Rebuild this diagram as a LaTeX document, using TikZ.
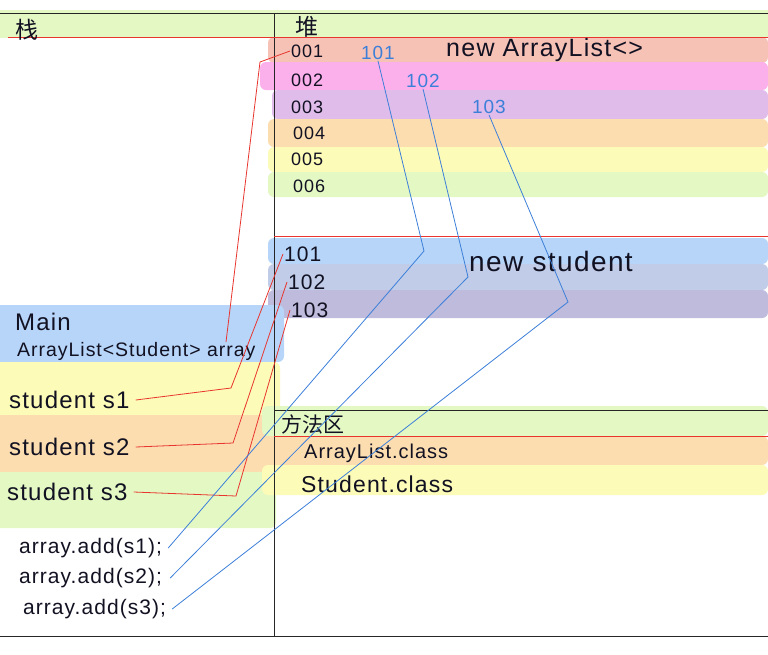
\documentclass[tikz,border=0pt]{standalone}
\usepackage{fontspec}
\setmainfont[LetterSpace=5]{Liberation Sans}
\newfontfamily\cjk{Noto Sans CJK SC}
\definecolor{cGreen}{HTML}{E4F8C4}
\definecolor{cSalmon}{HTML}{F7C2B6}
\definecolor{cPink}{HTML}{FBB0EC}
\definecolor{cPurple}{HTML}{E0BCEB}
\definecolor{cPeach}{HTML}{FCDDB0}
\definecolor{cYellow}{HTML}{FDFBB8}
\definecolor{cBlueA}{HTML}{B7D5F8}
\definecolor{cBlueB}{HTML}{C0CCE8}
\definecolor{cBlueC}{HTML}{BEBBDC}
\definecolor{cRed}{HTML}{E8352E}
\definecolor{cLink}{HTML}{3C7FD9}
\definecolor{cInk}{HTML}{111122}
\begin{document}
\begin{tikzpicture}[x=1pt,y=-1pt,
  band/.style={rounded corners=6pt},
  ink/.style={text=cInk,inner sep=1pt,anchor=west},
  bluetxt/.style={text=cLink,inner sep=1pt,anchor=west},
  redline/.style={draw=cRed,line width=0.8pt},
  blueline/.style={draw=cLink,line width=0.8pt},
  frame/.style={draw=black!85,line width=0.9pt}]
\useasboundingbox (0,0) rectangle (768,654);
% top band
\fill[cGreen] (0,10) rectangle (768,38);
% heap rows
\fill[band,cSalmon] (268,37) rectangle (768,63);
\fill[band,cPink] (260,62) rectangle (768,90);
\fill[band,cPurple] (272,90) rectangle (768,119);
\fill[band,cPeach] (268,119) rectangle (768,147);
\fill[band,cYellow] (268,147) rectangle (768,172);
\fill[band,cGreen] (268,172) rectangle (768,197);
\fill[band,cBlueA] (268,238) rectangle (768,264);
\fill[band,cBlueB] (268,264) rectangle (768,290);
\fill[band,cBlueC] (268,290) rectangle (768,318);
% stack rows
\fill[band,cBlueA] (-10,305) rectangle (284,362);
\fill[band,cYellow] (-10,362) rectangle (280,415);
\fill[band,cPeach] (-10,415) rectangle (280,472);
\fill[band,cGreen] (-10,472) rectangle (276,528);
% method area rows
\fill[band,cGreen] (262,406) rectangle (768,436);
\fill[band,cPeach] (268,436) rectangle (768,465);
\fill[band,cYellow] (262,465) rectangle (768,495);
% frame lines
\draw[frame] (0,13) -- (768,13);
\draw[frame] (0,636) -- (768,636);
\draw[frame] (274,13) -- (274,636);
\draw[frame] (274,410) -- (768,410);
\draw[cRed,line width=0.9pt] (8,37) -- (768,37);
\draw[cRed,line width=0.9pt] (274,236) -- (768,236);
\draw[cRed,line width=0.9pt] (274,436) -- (768,436);
% headings
\node[ink,font=\cjk\fontsize{23}{25}\selectfont] (zhan) at (14,30) {栈};
\node[ink,font=\cjk\fontsize{23}{25}\selectfont] (dui) at (294,27) {堆};
\node[ink,font=\cjk\fontsize{21}{23}\selectfont] (fang) at (280,424) {方法区};
% heap addresses
\node[ink,font=\fontsize{18}{20}\selectfont] (a001) at (290,51) {001};
\node[ink,font=\fontsize{18}{20}\selectfont] (a002) at (290,80) {002};
\node[ink,font=\fontsize{18}{20}\selectfont] (a003) at (290,107) {003};
\node[ink,font=\fontsize{18}{20}\selectfont] (a004) at (292,133) {004};
\node[ink,font=\fontsize{18}{20}\selectfont] (a005) at (290,159) {005};
\node[ink,font=\fontsize{18}{20}\selectfont] (a006) at (292,186) {006};
\node[bluetxt,font=\fontsize{19}{21}\selectfont] (v101) at (360,53) {101};
\node[bluetxt,font=\fontsize{19}{21}\selectfont] (v102) at (405,81) {102};
\node[bluetxt,font=\fontsize{19}{21}\selectfont] (v103) at (471,107) {103};
\node[ink,font=\fontsize{25}{27}\selectfont] (newal) at (445,50) {new ArrayList<>};
\node[ink,font=\fontsize{21}{23}\selectfont] (h101) at (283,254) {101};
\node[ink,font=\fontsize{21}{23}\selectfont] (h102) at (287,282) {102};
\node[ink,font=\fontsize{21}{23}\selectfont] (h103) at (290,310) {103};
\node[ink,font=\fontsize{28}{30}\selectfont] (newst) at (468,261) {new student};
% stack texts
\node[ink,font=\fontsize{24}{26}\selectfont] (main) at (14,322) {Main};
\node[ink,font=\fontsize{19.5}{22}\selectfont] (decl) at (16,351) {ArrayList<Student> array};
\node[ink,font=\fontsize{24}{26}\selectfont] (s1) at (8,400) {student  s1};
\node[ink,font=\fontsize{24}{26}\selectfont] (s2) at (8,447) {student  s2};
\node[ink,font=\fontsize{24}{26}\selectfont] (s3) at (6,492) {student  s3};
\node[ink,font=\fontsize{21}{23}\selectfont] (add1) at (18,548) {array.add(s1);};
\node[ink,font=\fontsize{21}{23}\selectfont] (add2) at (18,578) {array.add(s2);};
\node[ink,font=\fontsize{21}{23}\selectfont] (add3) at (22,609) {array.add(s3);};
% method area texts
\node[ink,font=\fontsize{20}{22}\selectfont] (alc) at (303,453) {ArrayList.class};
\node[ink,font=\fontsize{23}{25}\selectfont] (stc) at (300,484) {Student.class};
% corners
\coordinate (ra) at (260,62);
\coordinate (r1) at (231,388);
\coordinate (r2) at (233,443);
\coordinate (r3) at (236,496);
\coordinate (b1) at (424,251);
\coordinate (b2) at (468,277);
\coordinate (b3) at (568,302);
% red references (stack -> heap)
\draw[redline] (226,342) -- (ra) -- (a001.west);
\draw[redline] ([xshift=5pt]s1.east) -- (r1) -- (h101.west);
\draw[redline] ([xshift=5pt]s2.east) -- (r2) -- (h102.west);
\draw[redline] ([xshift=5pt]s3.east) -- (r3) -- (h103.west);
% blue references (heap list -> objects -> add calls)
\draw[blueline] (v101.south) -- (b1) -- ([xshift=5pt]add1.east);
\draw[blueline] (v102.south) -- (b2) -- ([xshift=7pt]add2.east);
\draw[blueline] (v103.south) -- (b3) -- ([xshift=5pt]add3.east);
\end{tikzpicture}
\end{document}
